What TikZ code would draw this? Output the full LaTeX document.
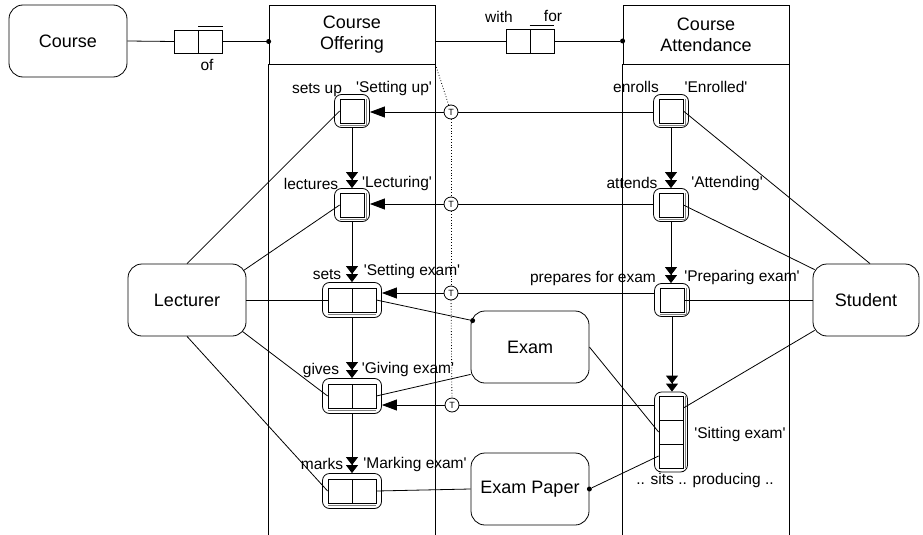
\documentclass[tikz,border=0pt]{standalone}
\usepackage{fontspec}
\setmainfont{Liberation Sans}[Ligatures=TeXOff]
\usetikzlibrary{arrows.meta}

\begin{document}
\begin{tikzpicture}[x=1pt, y=-1pt, line width=0.8pt,
 entity/.style={draw, rounded corners=14pt, minimum width=118pt, minimum height=72pt, inner sep=0pt, font=\fontsize{18}{21}\selectfont, align=center},
 colhead/.style={draw, minimum width=166pt, minimum height=59pt, inner sep=0pt, font=\fontsize{18}{21}\selectfont, align=center},
 txt/.style={inner sep=0pt, font=\fontsize{15.5}{17}\selectfont},
 role/.style={draw, minimum width=24pt, minimum height=24pt, inner sep=0pt},
 fact/.style={draw, rounded corners=7pt, inner sep=0pt},
 tee/.style={draw, circle, fill=white, minimum size=14pt, inner sep=0pt, font=\fontsize{9}{9}\selectfont},
 subset/.style={-{Triangle[length=8pt,width=12pt]Triangle[length=8pt,width=12pt]}},
 toward/.style={-{Triangle[length=15pt,width=11pt]}},
 uniq/.style={draw=gray, line width=1pt},
 mand/.style={circle, fill, inner sep=0pt, minimum size=5pt}]
 \useasboundingbox (0,0) rectangle (923,535);

 \node[entity] (course) at (68,41) {Course};
 \node[colhead] (offer) at (352,34.5) {Course\\Offering};
 \node[colhead] (attend) at (706,34.5) {Course\\Attendance};
 \draw (offer.south west) -- ++(0,480);
 \draw (offer.south east) -- ++(0,480);
 \draw (attend.south west) -- ++(0,480);
 \draw (attend.south east) -- ++(0,480);

 \node[role, minimum height=23pt] (of1) at (186.5,41.5) {};
 \node[role, minimum height=23pt] (of2) at (210.5,41.5) {};
 \draw ([yshift=3pt]of2.north west) -- ([yshift=3pt]of2.north east);
 \node[txt] (lof) at (207,65) {of};
 \node[mand] (dotof) at (of2.east -| offer.west) {};
 \draw (course.east) -- (of1.west);
 \draw[line width=1.4pt] (of2.east) -- (dotof);

 \node[role] (wf1) at (518,41) {};
 \node[role] (wf2) at (542,41) {};
 \draw ([yshift=3pt]wf2.north west) -- ([yshift=3pt]wf2.north east);
 \node[txt] (lwith) at (499,17) {with};
 \node[txt] (lfor) at (553,16) {for};
 \node[mand] (dotwf) at (wf2.east -| attend.west) {};
 \draw (wf1.west -| offer.east) -- (wf1.west);
 \draw (wf2.east) -- (dotwf);

 \node[fact, minimum width=35pt, minimum height=33pt] (setupF) at (352,111) {};
 \node[role] (setup) at (352,111) {};
 \node[fact, minimum width=35pt, minimum height=33pt] (lectF) at (352,205) {};
 \node[role] (lect) at (352,205) {};
 \node[fact, minimum width=59pt, minimum height=35pt] (setexF) at (352,300) {};
 \node[role] (setex1) at (340,300) {};
 \node[role] (setex2) at (364,300) {};
 \node[fact, minimum width=59pt, minimum height=35pt] (giveF) at (352,396) {};
 \node[role] (give1) at (340,396) {};
 \node[role] (give2) at (364,396) {};
 \node[fact, minimum width=59pt, minimum height=35pt] (markF) at (352,491) {};
 \node[role] (mark1) at (340,491) {};
 \node[role] (mark2) at (364,491) {};

 \node[fact, minimum width=35pt, minimum height=33pt] (enrolF) at (671,111) {};
 \node[role] (enrol) at (671,111) {};
 \node[fact, minimum width=35pt, minimum height=33pt] (attF) at (671,205) {};
 \node[role] (att) at (671,205) {};
 \node[fact, minimum width=35pt, minimum height=33pt] (prepF) at (672,300) {};
 \node[role] (prep) at (672,300) {};
 \node[fact, minimum width=33pt, minimum height=80pt] (sitF) at (671,432) {};
 \node[role] (sit1) at (671,408) {};
 \node[role] (sit2) at (671,432) {};
 \node[role] (sit3) at (671,456) {};

 \draw[uniq] ([xshift=2pt]setup.north east) -- ([xshift=2pt,yshift=-2pt]setup.south east) -- ([yshift=-2pt]setup.south west);
 \draw[uniq] ([xshift=2pt]lect.north east) -- ([xshift=2pt,yshift=-2pt]lect.south east) -- ([yshift=-2pt]lect.south west);
 \draw[uniq] ([xshift=2pt]enrol.north east) -- ([xshift=2pt,yshift=-2pt]enrol.south east) -- ([yshift=-2pt]enrol.south west);
 \draw[uniq] ([xshift=2pt]att.north east) -- ([xshift=2pt,yshift=-2pt]att.south east) -- ([yshift=-2pt]att.south west);
 \draw[uniq] ([xshift=2pt]prep.north east) -- ([xshift=2pt,yshift=-2pt]prep.south east) -- ([yshift=-2pt]prep.south west);
 \draw[uniq] ([yshift=-2pt]setex1.south west) -- ([yshift=-2pt]setex2.south east);
 \draw[uniq] ([yshift=-2pt]give1.south west) -- ([yshift=-2pt]give2.south east);
 \draw[uniq] ([yshift=-2pt]mark1.south west) -- ([yshift=-2pt]mark2.south east);
 \draw[uniq] ([xshift=2pt]sit1.north east) -- ([xshift=2pt]sit3.south east);

 \node[txt] (lsetup) at (317,90) {sets up};
 \node[txt] (nsetup) at (394,88) {'Setting up'};
 \node[txt] (llect) at (311,184) {lectures};
 \node[txt] (nlect) at (397,183) {'Lecturing'};
 \node[txt] (lsetex) at (327,275) {sets};
 \node[txt] (nsetex) at (412,271) {'Setting exam'};
 \node[txt] (lgive) at (321,370) {gives};
 \node[txt] (ngive) at (408,369) {'Giving exam'};
 \node[txt] (lmark) at (322,464) {marks};
 \node[txt] (nmark) at (415,464) {'Marking exam'};
 \node[txt] (lenrol) at (636,87) {enrolls};
 \node[txt] (nenrol) at (716,87) {'Enrolled'};
 \node[txt] (latt) at (632,183) {attends};
 \node[txt] (natt) at (727,183) {'Attending'};
 \node[txt] (lprep) at (593,278) {prepares for exam};
 \node[txt] (nprep) at (742,277) {'Preparing exam'};
 \node[txt] (nsit) at (740,434) {'Sitting exam'};
 \node[txt] (lsit) at (705,480) {.. sits .. producing ..};

 \draw[subset] (setupF) -- (lectF);
 \draw[subset] (lectF) -- (setexF);
 \draw[subset] (setexF) -- (giveF);
 \draw[subset] (giveF) -- (markF);
 \draw[subset] (enrolF) -- (attF);
 \draw[subset] (attF) -- (prepF.north -| attF.south);
 \draw[subset] (prepF) -- (sitF.north -| prepF.south);

 \node[tee] (t1) at (451,112) {T};
 \node[tee] (t2) at (451,204) {T};
 \node[tee] (t3) at (451,293) {T};
 \node[tee] (t4) at (452,405) {T};
 \draw[dotted] (offer.south east) -- (t1);
 \draw[dotted] (t1) -- (t2);
 \draw[dotted] (t2) -- (t3);
 \draw[dotted] (t3) -- (t4);
 \draw (enrolF.west |- t1) -- (t1);
 \draw[toward] (t1) -- (setupF.east |- t1);
 \draw (attF.west |- t2) -- (t2);
 \draw[toward] (t2) -- (lectF.east |- t2);
 \draw (prepF.west |- t3) -- (t3);
 \draw[toward] (t3) -- (setexF.east |- t3);
 \draw (sitF.west |- t4) -- (t4);
 \draw[toward] (t4) -- (giveF.east |- t4);

 \node[entity] (lec) at (187,300) {Lecturer};
 \node[entity, minimum width=106pt] (stu) at (866,300) {Student};
 \node[entity] (exam) at (530,347) {Exam};
 \node[entity] (paper) at (530,489) {Exam Paper};

 \draw (lec.north) -- (setup.west);
 \draw ([xshift=-3pt,yshift=-7pt]lec.north east) -- (lect.west);
 \draw (lec.east) -- (setex1.west);
 \draw ([xshift=-4pt,yshift=5pt]lec.south east) -- (give1.west);
 \draw (lec.south) -- (mark1.west);

 \draw (enrol.east) -- ([xshift=4pt]stu.north);
 \draw (att.east) -- ([xshift=2pt,yshift=-6pt]stu.north west);
 \draw (prep.east) -- (stu.west);
 \draw (sit1.east) -- ([xshift=2pt,yshift=6pt]stu.south west);

 \node[mand] (dotex) at ([xshift=2pt,yshift=-10pt]exam.north west) {};
 \draw (setex2.east) -- (dotex);
 \draw (give2.east) -- ([yshift=9pt]exam.south west);
 \draw (exam.east) -- (sit2.west);
 \draw (mark2.east) -- (paper.west);
 \node[mand] (dotep) at (paper.east) {};
 \draw (sit3.west) -- (dotep);
\end{tikzpicture}
\end{document}
